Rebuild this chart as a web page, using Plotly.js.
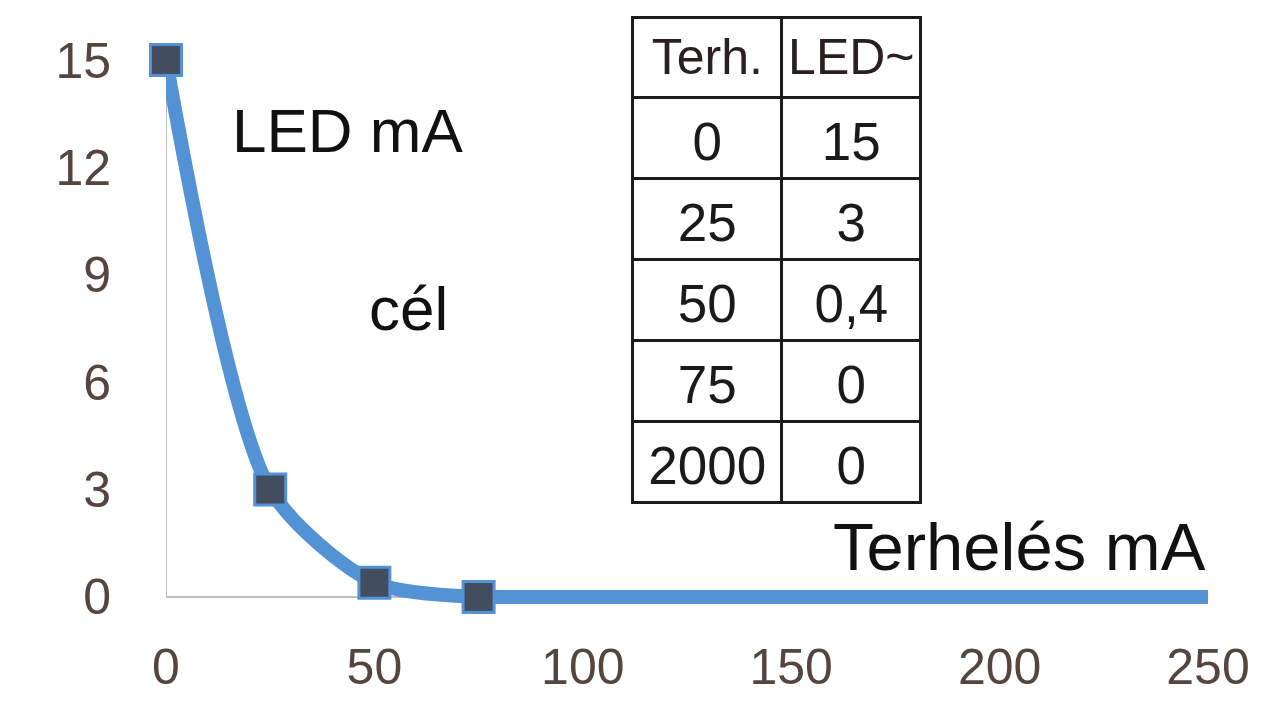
<!DOCTYPE html>
<html>
<head>
<meta charset="utf-8">
<script src="https://cdn.plot.ly/plotly-3.0.1.min.js"></script>
<style>html,body{margin:0;padding:0;background:#fff;}#chart{width:1280px;height:715px;}</style>
</head>
<body>
<div id="chart"></div>
<script>
// Data
var loadMA = [0, 25, 50, 75, 2000];
var ledMA = [15, 3, 0.4, 0, 0];
var tableHeader = ["Terh.", "LED~"];
var tableLoad = ["0", "25", "50", "75", "2000"];
var tableLed = ["15", "3", "0,4", "0", "0"];
var xTicks = [0, 50, 100, 150, 200, 250];
var yTicks = [0, 3, 6, 9, 12, 15];

var FONT = "Liberation Sans, Arial, sans-serif";
var BLUE = "#5392d4";

function blank(arr) { return arr.map(function () { return ""; }); }

// smoothed part with markers (points up to 75 mA)
var curveTrace = {
  type: "scatter",
  mode: "lines+markers",
  x: loadMA.slice(0, 4),
  y: ledMA.slice(0, 4),
  line: {color: BLUE, width: 14, shape: "spline", smoothing: 0.75},
  marker: {symbol: "square", size: 31, color: "#434d60", line: {color: BLUE, width: 3}},
  cliponaxis: false,
  hoverinfo: "x+y",
  showlegend: false
};
// flat tail 75 -> 2000 mA
var tailTrace = {
  type: "scatter",
  mode: "lines",
  x: loadMA.slice(3),
  y: ledMA.slice(3),
  line: {color: BLUE, width: 14},
  hoverinfo: "x+y",
  showlegend: false
};

// table grid layer and table text layer
var gridTable = {
  type: "table",
  domain: {x: [0.448, 0.7246], y: [0.195, 1]},
  columnwidth: [149, 139],
  header: {
    values: blank(tableHeader), height: 80, align: "center",
    fill: {color: "#ffffff"},
    line: {color: "#1c1c1c", width: 3},
    font: {family: FONT, size: 50, color: "#2a2020"}
  },
  cells: {
    values: [blank(tableLoad), blank(tableLed)], height: 81, align: "center",
    fill: {color: "#ffffff"},
    line: {color: "#1c1c1c", width: 3},
    font: {family: FONT, size: 53, color: "#1a1a1a"}
  }
};
var textTable = {
  type: "table",
  domain: {x: [0.448, 0.7246], y: [0.168, 0.981]},
  columnwidth: [149, 139],
  header: {
    values: tableHeader, height: 84, align: "center",
    fill: {color: "rgba(0,0,0,0)"},
    line: {color: "rgba(0,0,0,0)", width: 0},
    font: {family: FONT, size: 50, color: "#2a2020"}
  },
  cells: {
    values: [tableLoad, tableLed], height: 81, align: "center",
    fill: {color: "rgba(0,0,0,0)"},
    line: {color: "rgba(0,0,0,0)", width: 0},
    font: {family: FONT, size: 53, color: "#1a1a1a"}
  }
};

var layout = {
  width: 1280,
  height: 715,
  margin: {l: 166, r: 72, t: 17, b: 93, pad: 0},
  paper_bgcolor: "#ffffff",
  plot_bgcolor: "#ffffff",
  showlegend: false,
  font: {family: FONT, color: "#404040"},
  xaxis: {
    range: [0, 250],
    tickvals: xTicks,
    ticktext: xTicks.map(String),
    showgrid: false,
    zeroline: false,
    showline: false,
    ticks: "",
    ticklabelstandoff: 11,
    tickfont: {family: FONT, size: 50, color: "#54463f"},
    fixedrange: true
  },
  yaxis: {
    range: [-0.7, 15],
    domain: [0, 0.9289],
    tickvals: yTicks,
    ticktext: yTicks.map(String),
    showgrid: false,
    zeroline: true,
    zerolinecolor: "#bfbfbf",
    zerolinewidth: 2,
    showline: false,
    ticks: "",
    ticklabelstandoff: 54,
    tickfont: {family: FONT, size: 50, color: "#54463f"},
    fixedrange: true
  },
  shapes: [
    {type: "line", xref: "x", yref: "y", x0: 0, x1: 0, y0: 0, y1: 15, layer: "below",
     line: {color: "#bfbfbf", width: 2}}
  ],
  annotations: [
    {xref: "paper", yref: "paper", x: (347 - 166) / 1042, y: (622 - 130) / 605, text: "LED mA", showarrow: false,
     xanchor: "center", yanchor: "middle", font: {family: FONT, size: 62, color: "#111111"}},
    {xref: "paper", yref: "paper", x: (408 - 166) / 1042, y: (622 - 308) / 605, text: "cél", showarrow: false,
     xanchor: "center", yanchor: "middle", font: {family: FONT, size: 62, color: "#111111"}},
    {xref: "paper", yref: "paper", x: (1208 - 166) / 1042, y: (622 - 546) / 605, text: "Terhelés mA", showarrow: false,
     xanchor: "right", yanchor: "middle", font: {family: FONT, size: 67, color: "#111111"}}
  ]
};

Plotly.newPlot("chart", [gridTable, textTable, tailTrace, curveTrace], layout, {displayModeBar: false, staticPlot: true});
</script>
</body>
</html>
